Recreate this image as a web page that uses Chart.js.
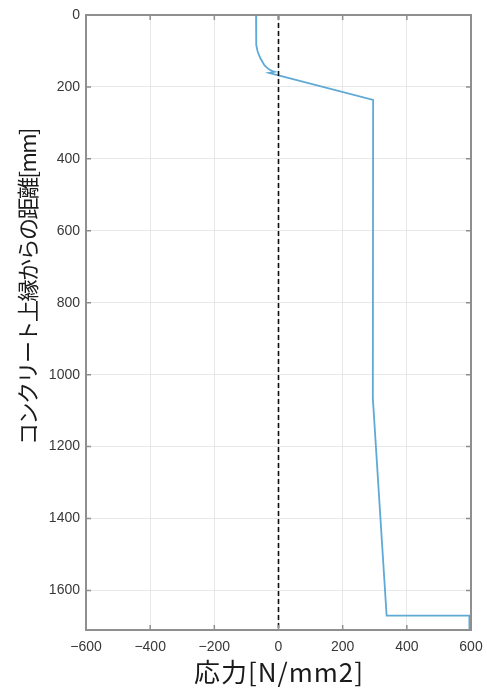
<!DOCTYPE html>
<html>
<head>
<meta charset="utf-8">
<script src="https://cdn.jsdelivr.net/npm/chart.js@4.4.1/dist/chart.umd.min.js"></script>
<style>
  html, body { margin: 0; padding: 0; background: #ffffff; }
  #wrap { width: 487px; height: 690px; }
</style>
</head>
<body>
<div id="wrap"><canvas id="c" width="487" height="690"></canvas></div>
<script>
// Stress distribution over the section depth
const depthMm    = [0, 66, 84, 103, 121, 140, 151, 157, 158, 161, 236, 1065, 1670, 1670, 1710];
const stressNmm2 = [-70, -70, -68.7, -64.6, -56, -43.5, -30, -16.6, -13, -30, 295, 294, 337, 595, 595];

// Neutral reference line at zero stress
const zeroStressX = [0, 0];
const zeroStressDepth = [0, 1710];

// Axis ticks and ranges
const xTickValues = [-600, -400, -200, 0, 200, 400, 600];
const yTickValues = [0, 200, 400, 600, 800, 1000, 1200, 1400, 1600];
const xRange = [-600, 600];
const yRange = [0, 1710];

const xTitle = '応力[N/mm2]';
const yTitle = 'コンクリート上縁からの距離[mm]';

const toPoints = (xs, ys) => xs.map((x, i) => ({ x: x, y: ys[i] }));
const fmtTick = v => (v < 0 ? '\u2212' + Math.abs(v) : String(v));

const AXIS_COLOR = '#8f8f8f';
const GRID_COLOR = '#e8e8e8';
const TICK_FONT = { family: '"Liberation Sans", Arial, sans-serif', size: 14 };

// Closed frame with inward tick marks on all four sides
const framePlugin = {
  id: 'frame',
  afterDatasetsDraw(chart) {
    const { ctx, chartArea: a, scales } = chart;
    const len = 5;
    ctx.save();
    ctx.strokeStyle = AXIS_COLOR;
    ctx.lineWidth = 1.5;
    ctx.beginPath();
    xTickValues.forEach(v => {
      const px = scales.x.getPixelForValue(v);
      ctx.moveTo(px, a.bottom); ctx.lineTo(px, a.bottom - len);
      ctx.moveTo(px, a.top);    ctx.lineTo(px, a.top + len);
    });
    yTickValues.forEach(v => {
      const py = scales.y.getPixelForValue(v);
      ctx.moveTo(a.left, py);  ctx.lineTo(a.left + len, py);
      ctx.moveTo(a.right, py); ctx.lineTo(a.right - len, py);
    });
    ctx.stroke();
    ctx.lineWidth = 2;
    ctx.strokeRect(a.left, a.top, a.right - a.left, a.bottom - a.top);
    ctx.restore();
  }
};

// Axis titles
const titlePlugin = {
  id: 'axisTitles',
  afterDraw(chart) {
    const { ctx, chartArea: a } = chart;
    ctx.save();
    ctx.fillStyle = '#1a1a1a';
    ctx.textAlign = 'center';
    ctx.textBaseline = 'middle';
    ctx.font = '26px "Noto Sans CJK JP"';
    ctx.letterSpacing = '1px';
    ctx.fillText(xTitle, (a.left + a.right) / 2 + 0.5, a.bottom + 42);
    ctx.letterSpacing = '-1.5px';
    ctx.font = '22px "Noto Sans CJK JP"';
    ctx.translate(28, a.top + 272);
    ctx.rotate(-Math.PI / 2);
    ctx.fillText(yTitle, 0, 0);
    ctx.restore();
  }
};

new Chart(document.getElementById('c'), {
  type: 'scatter',
  data: {
    datasets: [
      {
        data: toPoints(stressNmm2, depthMm),
        showLine: true,
        borderColor: '#5ea9d6',
        borderWidth: 1.8,
        pointRadius: 0,
        tension: 0,
        order: 2
      },
      {
        data: toPoints(zeroStressX, zeroStressDepth),
        showLine: true,
        borderColor: '#111111',
        borderWidth: 1.6,
        borderDash: [5, 3],
        pointRadius: 0,
        order: 1
      }
    ]
  },
  options: {
    responsive: false,
    devicePixelRatio: 1,
    animation: false,
    layout: { padding: { top: 15, right: 16, bottom: 0, left: 0 } },
    plugins: { legend: { display: false }, tooltip: { enabled: false } },
    scales: {
      x: {
        type: 'linear',
        min: xRange[0],
        max: xRange[1],
        afterBuildTicks: s => { s.ticks = xTickValues.map(v => ({ value: v })); },
        afterFit: s => { s.height = 60; s.paddingLeft = 0; s.paddingRight = 0; },
        grid: { color: GRID_COLOR, lineWidth: 1, drawTicks: false },
        border: { display: false },
        ticks: {
          padding: 9,
          color: '#383838',
          font: TICK_FONT,
          maxRotation: 0,
          callback: v => fmtTick(v)
        }
      },
      y: {
        type: 'linear',
        reverse: true,
        min: yRange[0],
        max: yRange[1],
        afterBuildTicks: s => { s.ticks = yTickValues.map(v => ({ value: v })); },
        afterFit: s => { s.width = 86; s.paddingTop = 0; s.paddingBottom = 0; },
        grid: { color: GRID_COLOR, lineWidth: 1, drawTicks: false },
        border: { display: false },
        ticks: {
          padding: 6,
          color: '#383838',
          font: TICK_FONT,
          callback: v => fmtTick(v)
        }
      }
    }
  },
  plugins: [framePlugin, titlePlugin]
});
</script>
</body>
</html>
